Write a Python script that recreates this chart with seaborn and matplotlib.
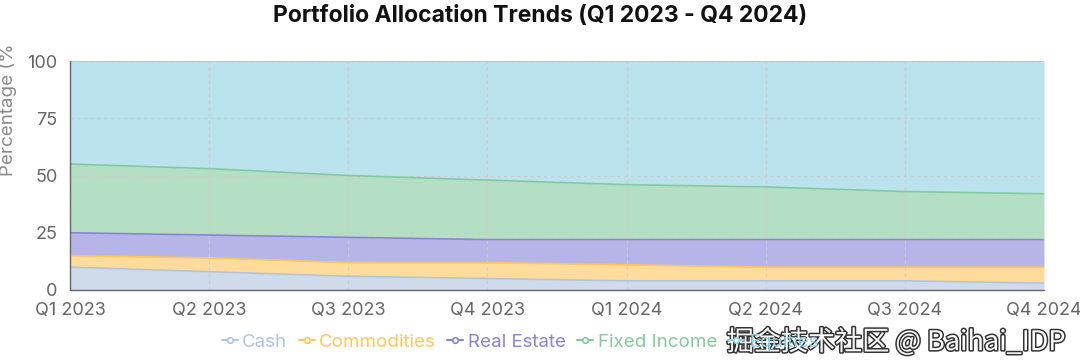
import numpy as np
import matplotlib
matplotlib.use("Agg")
import matplotlib.pyplot as plt
import matplotlib.patheffects as pe
from matplotlib.lines import Line2D
from matplotlib.transforms import Bbox
import seaborn as sns

quarters = ["Q1 2023", "Q2 2023", "Q3 2023", "Q4 2023",
            "Q1 2024", "Q2 2024", "Q3 2024", "Q4 2024"]
cash = [10, 8, 6, 5, 4, 4, 4, 3]
commodities = [5, 6, 6, 7, 7, 6, 6, 7]
real_estate = [10, 10, 11, 10, 11, 12, 12, 12]
fixed_income = [30, 29, 27, 26, 24, 23, 21, 20]
equities = [45, 47, 50, 52, 54, 55, 57, 58]

series = ["Cash", "Commodities", "Real Estate", "Fixed Income", "Equities"]
values = [cash, commodities, real_estate, fixed_income, equities]
colors = ["#b0c4de", "#ffc658", "#8884d8", "#82ca9d", "#8dd1e1"]

sns.set_theme(style="white")
plt.rcParams["font.family"] = ["Inter", "DejaVu Sans"]

fig = plt.figure(figsize=(10.8, 3.64), dpi=100)
ax = fig.add_axes([70 / 1080, 1 - 290 / 364, (1044 - 70) / 1080, (290 - 61) / 364])

x = np.arange(len(quarters))
bottom = np.zeros(len(quarters))
for name, vals, col in zip(series, values, colors):
    top = bottom + np.array(vals)
    ax.fill_between(x, bottom, top, color=col, alpha=0.6, linewidth=0, zorder=1)
    sns.lineplot(x=x, y=top, color=col, linewidth=1.2, ax=ax, zorder=3)
    bottom = top

ax.set_xlim(0, len(quarters) - 1)
ax.set_ylim(0, 100)
ax.set_xticks(x)
ax.set_xticklabels(quarters)
ax.set_yticks([0, 25, 50, 75, 100])
ax.grid(True, color="#cccccc", linestyle=(0, (3, 3)), linewidth=0.8, zorder=2)
ax.set_axisbelow(False)
for s in ["top", "right"]:
    ax.spines[s].set_visible(False)
for s in ["left", "bottom"]:
    ax.spines[s].set_color("#666666")
    ax.spines[s].set_linewidth(1)
    ax.spines[s].set_zorder(5)
ax.tick_params(axis="both", colors="#666666", labelsize=13, length=6, width=1,
               direction="out", pad=3)

fig.text(0.5, 0.955, "Portfolio Allocation Trends (Q1 2023 - Q4 2024)",
         ha="center", va="center", fontsize=16.5, fontweight="bold", color="#111111")

ylab = fig.text(8 / 1080, 1 - 176 / 364, "Percentage (%)", rotation=90,
                ha="center", va="bottom", fontsize=13.5, color="#888888")
ylab.set_clip_box(Bbox.from_extents(0, 0, 100, 364 - 46))
ylab.set_clip_on(True)

handles = [Line2D([0], [0], color=c, marker="o", markersize=4, markerfacecolor="white",
                  markeredgecolor=c, markeredgewidth=1.2, linewidth=1.5)
           for c in colors]
leg = fig.legend(handles, series, loc="center", bbox_to_anchor=(520 / 1080, 1 - 342 / 364),
                 ncol=5, frameon=False, fontsize=13.5, handlelength=0.85,
                 handletextpad=0.25, columnspacing=0.6)
for txt, c in zip(leg.get_texts(), colors):
    txt.set_color(c)

fig.text(1066 / 1080, 1 - 342 / 364, "掘金技术社区 @ Baihai_IDP", ha="right", va="center",
         fontsize=19.5, color="white", family=["Noto Sans CJK SC", "DejaVu Sans"],
         path_effects=[pe.withStroke(linewidth=2.2, foreground="#333333")])

fig.savefig("out.png", dpi=100)
